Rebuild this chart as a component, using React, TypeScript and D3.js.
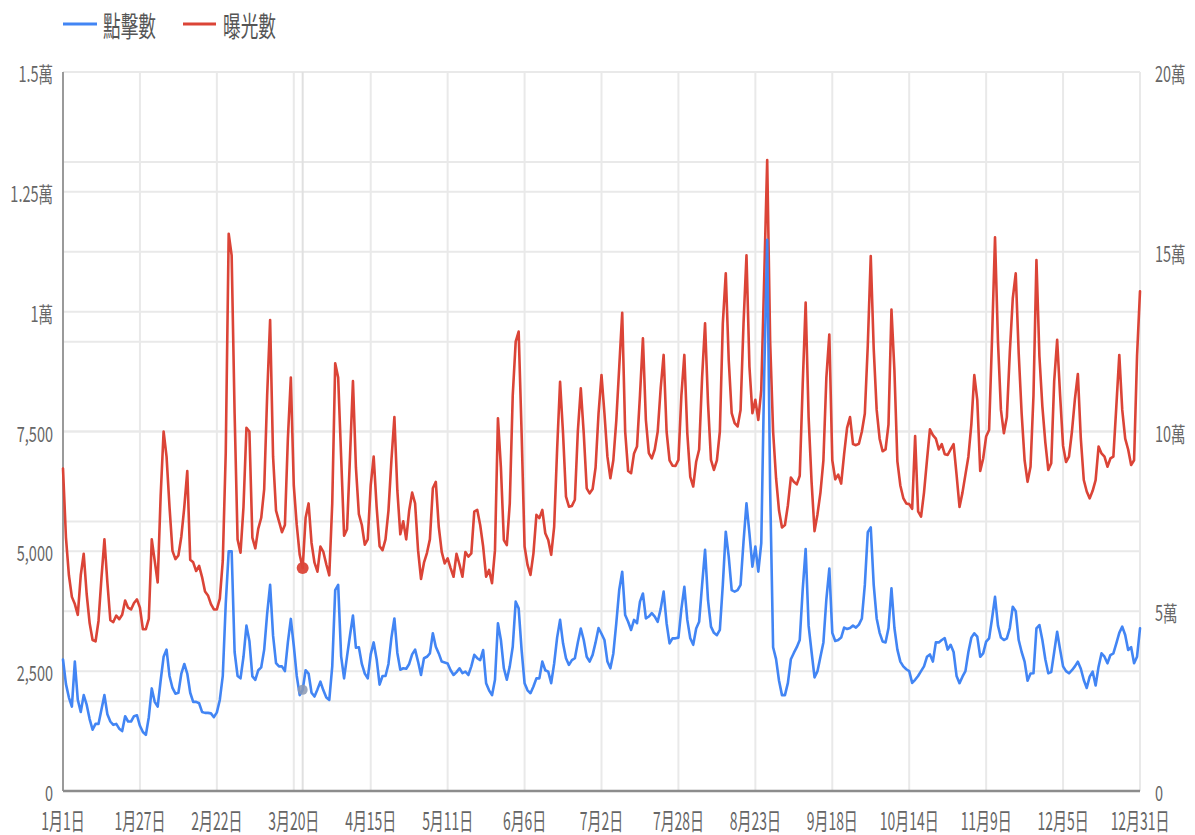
import React, { useEffect, useRef } from "react";
import * as d3 from "d3";

const startDate = "2023-01-01";
const hoverDate = "2023-03-23";

const seriesNames = ["點擊數", "曝光數"];

// 點擊數 (left axis)
const clicks = [
  2743, 2230, 1950, 1760, 2700, 1900, 1650, 2000, 1800, 1500,
  1280, 1400, 1400, 1700, 2000, 1600, 1450, 1380, 1400, 1300,
  1250, 1560, 1450, 1450, 1560, 1580, 1360, 1230, 1170, 1540,
  2140, 1860, 1760, 2300, 2800, 2950, 2400, 2150, 2030, 2050,
  2450, 2650, 2450, 2050, 1860, 1860, 1830, 1650, 1630, 1630,
  1620, 1540, 1640, 1900, 2400, 3900, 5000, 5000, 2900, 2400,
  2350, 2800, 3450, 3130, 2390, 2320, 2520, 2580, 2950, 3700,
  4300, 3240, 2670, 2600, 2600, 2500, 3100, 3590, 3030, 2400,
  2000, 2110, 2520, 2450, 2050, 1970, 2120, 2280, 2100, 1950,
  1900, 2600, 4190, 4300, 2810, 2350, 2810, 3250, 3660, 2990,
  3000, 2650, 2450, 2350, 2850, 3100, 2750, 2220, 2400, 2400,
  2650, 3200, 3600, 2880, 2530, 2560, 2550, 2650, 2850, 2950,
  2700, 2420, 2770, 2800, 2870, 3290, 3010, 2870, 2700, 2680,
  2660, 2520, 2420, 2480, 2560, 2460, 2490, 2420, 2600, 2840,
  2770, 2730, 2940, 2250, 2100, 2000, 2320, 3500, 3150, 2560,
  2320, 2600, 3010, 3950, 3810, 2940, 2250, 2100, 2040, 2180,
  2350, 2350, 2700, 2520, 2490, 2250, 2660, 3200, 3570, 3080,
  2770, 2630, 2730, 2770, 3100, 3390, 3150, 2800, 2700, 2840,
  3100, 3400, 3280, 3150, 2700, 2560, 2870, 3500, 4200, 4575,
  3670, 3530, 3360, 3570, 3500, 3950, 4120, 3600, 3640, 3710,
  3640, 3530, 3800, 4160, 3500, 3080, 3185, 3185, 3200, 3800,
  4260, 3570, 3185, 3050, 3390, 3530, 4300, 5030, 3980, 3430,
  3300, 3250, 3360, 4300, 5410, 4890, 4190, 4160, 4190, 4300,
  5200, 6000, 5375, 4680, 5100, 4575, 5170, 8700, 11500, 6300,
  3000, 2750, 2300, 2000, 2000, 2255, 2750, 2880, 3000, 3150,
  4200, 5050, 3450, 2900, 2370, 2500, 2800, 3100, 4000, 4640,
  3300, 3130, 3150, 3200, 3410, 3380, 3400, 3450, 3410, 3470,
  3600, 4300, 5400, 5500, 4300, 3600, 3300, 3120, 3100, 3400,
  4230, 3400, 2950, 2700, 2600, 2540, 2500, 2255, 2320, 2400,
  2500, 2600, 2800, 2850, 2700, 3100, 3100, 3150, 3190, 2950,
  3050, 2900, 2400, 2250, 2385, 2500, 2900, 3200, 3290, 3220,
  2800, 2870, 3115, 3185, 3600, 4050, 3450, 3200, 3150, 3185,
  3400, 3845, 3750, 3150, 2900, 2700, 2300, 2450, 2455, 3394,
  3463, 3150, 2750, 2455, 2480, 2900, 3323, 2950, 2600, 2500,
  2455, 2520, 2600, 2697, 2550, 2315, 2150, 2385, 2489, 2200,
  2594, 2872, 2802, 2664, 2837, 2872, 3080, 3300, 3428, 3254,
  2941, 3000, 2664, 2802, 3394,
];

// 曝光數 (right axis)
const impressions = [
  89700, 70500, 60000, 54000, 52000, 49000, 60000, 66000, 54800, 46700,
  42000, 41600, 47300, 59300, 70000, 58000, 47500, 47000, 48800, 47800,
  49000, 53000, 51000, 50500, 52300, 53300, 51000, 45000, 45000, 47900,
  70000, 64000, 58000, 82000, 100000, 93000, 79000, 66800, 64500, 65500,
  70800, 79000, 89000, 64300, 63600, 61200, 62600, 59500, 55500, 54400,
  52000, 50500, 50500, 53500, 64000, 94000, 155000, 149000, 105000, 70000,
  66300, 79000, 101000, 100000, 70500, 67500, 73000, 76000, 84000, 110000,
  131000, 93000, 78000, 75000, 72000, 74000, 98000, 115000, 85000, 74000,
  65700, 62000, 76000, 80000, 69000, 63500, 61000, 68000, 66500, 63000,
  60000, 80000, 119000, 115000, 93000, 71000, 72800, 93000, 114000, 90000,
  77000, 74000, 68500, 70000, 85000, 93000, 79000, 68100, 67000, 70000,
  78000, 92000, 104000, 83600, 71400, 75000, 70000, 78000, 83000, 80000,
  67000, 59000, 63500, 66200, 70000, 84200, 86000, 73500, 66500, 63300,
  64700, 62000, 59600, 66000, 63000, 59600, 66500, 65200, 66100, 77700,
  78200, 74000, 68000, 59600, 61500, 57800, 67000, 103700, 90000, 69800,
  68400, 80000, 110000, 125000, 127800, 99500, 68000, 62900, 60100, 66100,
  76800, 75900, 78200, 71700, 69800, 65700, 73500, 95000, 113800, 99500,
  81900, 79100, 79300, 81000, 100000, 112000, 99500, 84200, 82800, 84000,
  90000, 105000, 115700, 105000, 93000, 87000, 92000, 103000, 118000, 133000,
  100000, 89000, 88400, 93900, 95800, 110000, 125900, 103200, 94000, 92500,
  95000, 100000, 112000, 121300, 100000, 92000, 90500, 90400, 92100, 110000,
  121300, 99500, 87400, 84700, 91600, 95000, 115000, 130100, 107900, 92100,
  89300, 92000, 100000, 130000, 144000, 119900, 105100, 102300, 101400, 106000,
  130000, 149000, 118000, 105100, 108800, 103200, 111600, 143000, 175500, 125000,
  100000, 87000, 78000, 73300, 74000, 79500, 87200, 86000, 85300, 87700,
  113000, 135900, 104000, 86000, 72300, 77000, 83000, 92000, 115000, 127000,
  92000, 86700, 88000, 85500, 93700, 101000, 104000, 96500, 96200, 96600,
  100000, 105000, 124000, 148800, 123000, 106000, 98000, 94500, 95000, 102000,
  133900, 117000, 91700, 85000, 81500, 80000, 79800, 78500, 98700, 77800,
  76300, 83000, 92000, 100600, 99000, 98000, 95000, 96500, 93700, 93500,
  95000, 96500, 88000, 79000, 83000, 88000, 93000, 102000, 115700, 108800,
  89000, 92500, 98600, 100400, 126000, 154000, 125000, 106000, 99500, 104000,
  122000, 137000, 144000, 121800, 105000, 92000, 86000, 90200, 110000, 147700,
  121000, 107000, 97000, 89300, 91200, 114000, 125500, 110000, 96000, 91500,
  93000, 100000, 109000, 116000, 98000, 86500, 83300, 81400, 83500, 86500,
  95800, 93900, 93000, 90200, 92500, 93000, 107000, 121300, 106000, 98000,
  95000, 90700, 92000, 121000, 139000,
];

const xTickDates = [
  "2023-01-01", "2023-01-27", "2023-02-22", "2023-03-20", "2023-04-15",
  "2023-05-11", "2023-06-06", "2023-07-02", "2023-07-28", "2023-08-23",
  "2023-09-18", "2023-10-14", "2023-11-09", "2023-12-05", "2023-12-31",
];
const xTickLabels = [
  "1月1日", "1月27日", "2月22日", "3月20日", "4月15日",
  "5月11日", "6月6日", "7月2日", "7月28日", "8月23日",
  "9月18日", "10月14日", "11月9日", "12月5日", "12月31日",
];

const leftTicks = [0, 2500, 5000, 7500, 10000, 12500, 15000];
const leftTickLabels = ["0", "2,500", "5,000", "7,500", "1萬", "1.25萬", "1.5萬"];
const rightGrid = [0, 25000, 50000, 75000, 100000, 125000, 150000, 175000, 200000];
const rightTicks = [0, 50000, 100000, 150000, 200000];
const rightTickLabels = ["0", "5萬", "10萬", "15萬", "20萬"];

const BLUE = "#4285f4";
const RED = "#db4437";
const FONT = "'Noto Sans CJK TC', 'Noto Sans', sans-serif";

function SText(props: {
  x: number; y: number; text: string; size: number; sx: number;
  anchor: "start" | "middle" | "end"; fill: string;
}) {
  const { x, y, text, size, sx, anchor, fill } = props;
  return (
    <text
      x={x}
      y={y}
      data-sx={sx}
      textAnchor={anchor}
      dominantBaseline="central"
      fontFamily={FONT}
      fontSize={size}
      fill={fill}
    >
      {text}
    </text>
  );
}

export default function App() {
  const W = 1195, H = 835;
  const left = 63, right = 1140, top = 72, bottom = 791;
  const svgRef = useRef<SVGSVGElement | null>(null);

  useEffect(() => {
    const svg = svgRef.current;
    if (!svg) return;
    const apply = () => {
      svg.querySelectorAll("text[data-sx]").forEach((el) => {
        const t = el as SVGTextElement;
        t.removeAttribute("textLength");
        const sx = parseFloat(t.getAttribute("data-sx") || "1");
        const len = t.getComputedTextLength();
        t.setAttribute("textLength", String(len * sx));
        t.setAttribute("lengthAdjust", "spacingAndGlyphs");
      });
    };
    apply();
    if ((document as any).fonts && (document as any).fonts.ready) {
      (document as any).fonts.ready.then(apply);
    }
  }, []);

  const parse = d3.utcParse("%Y-%m-%d");
  const start = parse(startDate) as Date;
  const dates = impressions.map((_, i) => d3.utcDay.offset(start, i));
  const tickDates = xTickDates.map((s) => parse(s) as Date);

  const x = d3.scaleUtc()
    .domain([tickDates[0], tickDates[tickDates.length - 1]])
    .range([left, right]);
  const yL = d3.scaleLinear().domain([0, 15000]).range([bottom, top]);
  const yR = d3.scaleLinear().domain([0, 200000]).range([bottom, top]);

  const clickLine = d3.line<number>()
    .x((_, i) => x(dates[i]))
    .y((d) => yL(d))(clicks) || "";
  const impLine = d3.line<number>()
    .x((_, i) => x(dates[i]))
    .y((d) => yR(d))(impressions) || "";

  const hover = parse(hoverDate) as Date;
  const hi = d3.utcDay.count(start, hover);
  const hx = x(hover);

  const gridColor = "#e9e9e9";

  return (
    <div style={{ position: "absolute", left: 0, top: 0, width: W, height: H, background: "#fff" }}>
      <svg ref={svgRef} width={W} height={H} style={{ display: "block" }}>
        <rect x={0} y={0} width={W} height={H} fill="#fff" />
        {leftTicks.map((t) => (
          <line key={"gl" + t} x1={left} x2={right} y1={yL(t)} y2={yL(t)} stroke={gridColor} strokeWidth={2} />
        ))}
        {rightGrid.map((t) => (
          <line key={"gr" + t} x1={left} x2={right} y1={yR(t)} y2={yR(t)} stroke={gridColor} strokeWidth={2} />
        ))}
        {tickDates.map((d, i) => (
          <line key={"gv" + i} x1={x(d)} x2={x(d)} y1={top} y2={bottom} stroke={gridColor} strokeWidth={2} />
        ))}
        <line x1={hx} x2={hx} y1={top} y2={bottom} stroke="#e0e0e0" strokeWidth={2} />

        <line x1={left} x2={left} y1={top} y2={bottom} stroke="#9a9a9a" strokeWidth={2} />
        <line x1={left} x2={right} y1={bottom} y2={bottom} stroke="#8c8c8c" strokeWidth={2.5} />

        <path d={impLine} fill="none" stroke={RED} strokeWidth={2.6} strokeLinejoin="round" strokeLinecap="round" />
        <path d={clickLine} fill="none" stroke={BLUE} strokeWidth={2.6} strokeLinejoin="round" strokeLinecap="round" />

        <circle cx={hx} cy={yL(clicks[hi])} r={5} fill="#8b99b3" opacity={0.85} />
        <circle cx={hx} cy={yR(impressions[hi])} r={6} fill={RED} opacity={0.95} />

        {leftTicks.map((t, i) => (
          <SText key={"ll" + t} x={53} y={yL(t) + 1} text={leftTickLabels[i]} size={21} sx={0.69} anchor="end" fill="#666" />
        ))}
        {rightTicks.map((t, i) => (
          <SText key={"rl" + t} x={1155} y={yR(t) + 1} text={rightTickLabels[i]} size={21} sx={0.69} anchor="start" fill="#666" />
        ))}
        {tickDates.map((d, i) => (
          <SText key={"bl" + i} x={x(d)} y={819} text={xTickLabels[i]} size={24} sx={0.58} anchor="middle" fill="#666" />
        ))}

        <line x1={63} x2={97} y1={24} y2={24} stroke={BLUE} strokeWidth={3} />
        <SText x={103} y={25} text={seriesNames[0]} size={28} sx={0.63} anchor="start" fill="#555" />
        <line x1={183} x2={216} y1={24} y2={24} stroke={RED} strokeWidth={3} />
        <SText x={223} y={25} text={seriesNames[1]} size={28} sx={0.63} anchor="start" fill="#555" />
      </svg>
    </div>
  );
}
